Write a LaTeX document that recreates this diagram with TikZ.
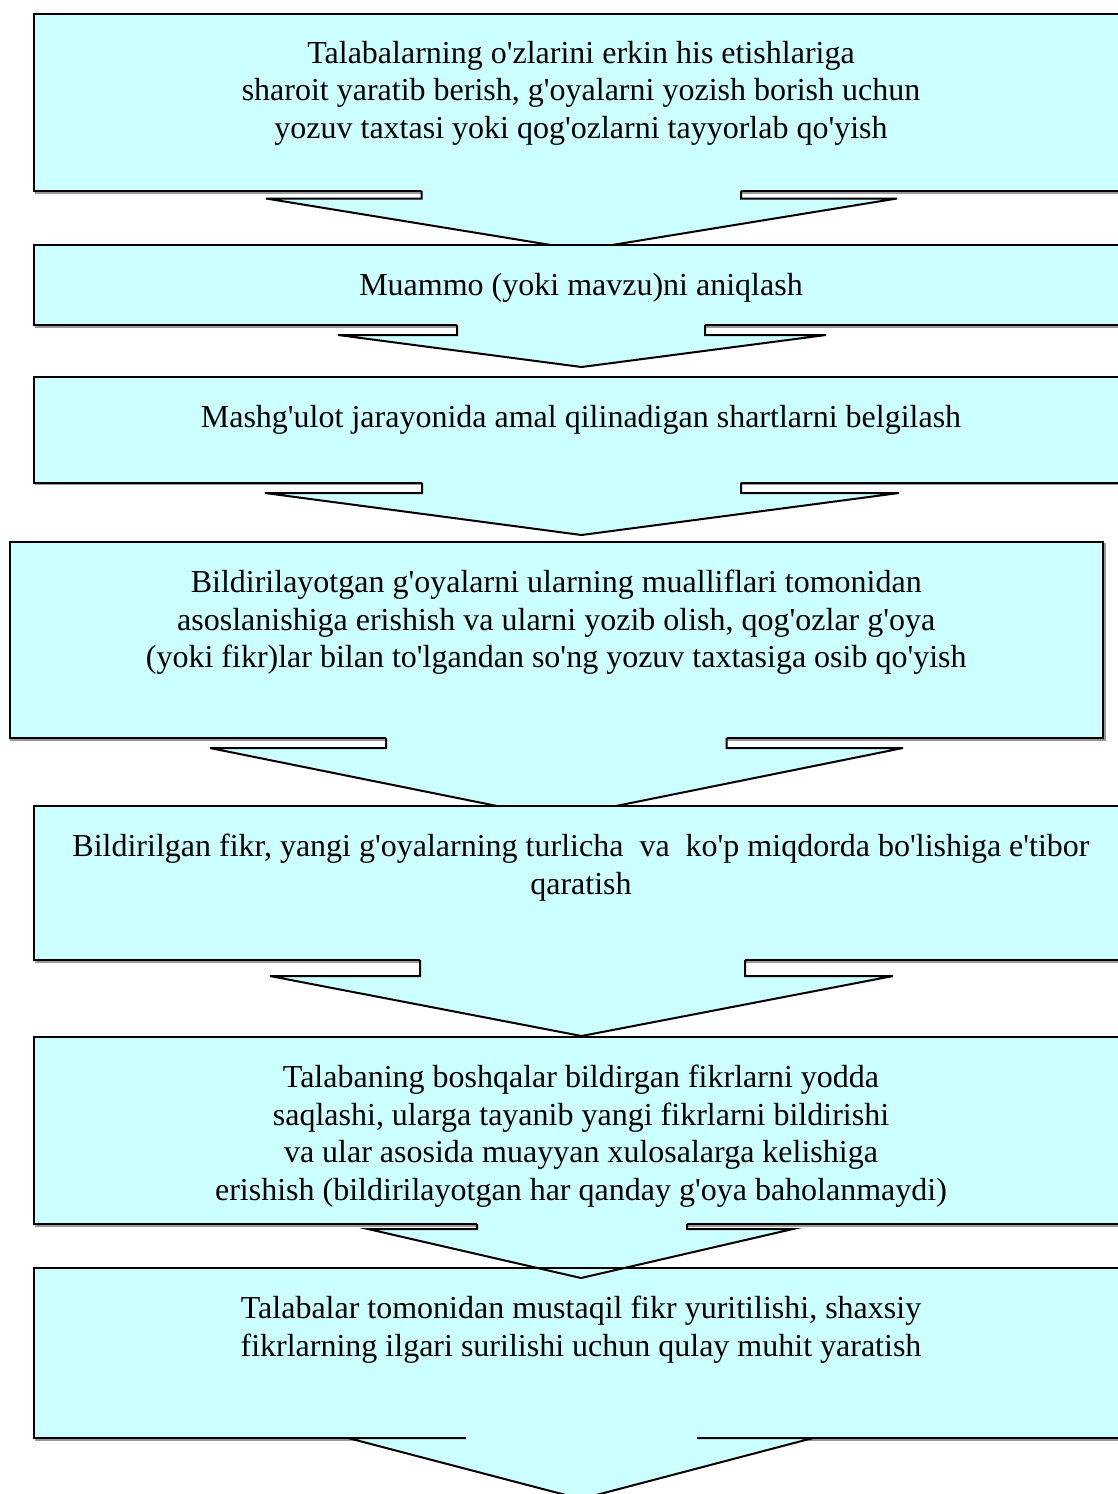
\documentclass[tikz,border=0pt]{standalone}
\usepackage{fontspec}
\setmainfont{Liberation Serif}[Ligatures=TeXOff]
\definecolor{boxcyan}{RGB}{204,255,255}
\tikzset{
  flowbox/.style={fill=boxcyan, draw=black, line width=2pt},
  boxshadow/.style={draw=black!40, line width=2pt},
  boxtext/.style={anchor=north, inner sep=0pt, align=center, font=\fontsize{32}{37.4}\selectfont},
  arrowline/.style={draw=black, line width=2pt, line join=miter},
}
% #1 box bottom, #2 shaft left, #3 shaft right, #4 shaft bottom, #5 head left, #6 head right, #7 tip x, #8 tip y
\newcommand\arrfill[8]{\fill[boxcyan] (#2,#1-3) -- (#2,#4) -- (#5,#4) -- (#7,#8) -- (#6,#4) -- (#3,#4) -- (#3,#1-3) -- cycle;}
\newcommand\arrline[8]{\draw[arrowline] (#2,#1) -- (#2,#4) -- (#5,#4) -- (#7,#8) -- (#6,#4) -- (#3,#4) -- (#3,#1);}
\newcommand\flowbox[5]{% name, x1, y1, x2, y2
  \draw[boxshadow] (#2+1.5,#3+1.5) rectangle (#4+1.5,#5+1.5);
  \draw[flowbox] (#2,#3) rectangle (#4,#5);
  \coordinate (#1) at ({(#2+#4)/2},#3);}
\begin{document}
\begin{tikzpicture}[x=1pt,y=-1pt]
\useasboundingbox (0,0) rectangle (1117,1494);

% Box 1
\flowbox{b1}{34}{14}{1128}{191}
\node[boxtext] (t1) at ([yshift=-23pt]b1) {\strut Talabalarning o'zlarini erkin his etishlariga\\
  sharoit yaratib berish, g'oyalarni yozish borish uchun\\
  yozuv taxtasi yoki qog'ozlarni tayyorlab qo'yish};
\arrfill{191}{421.5}{741}{198.5}{266}{897}{581.5}{250}
\arrline{191}{421.5}{741}{198.5}{266}{897}{581.5}{250}

% Box 2
\flowbox{b2}{34}{245}{1128}{325}
\node[boxtext] (t2) at ([yshift=-24.5pt]b2) {\strut Muammo (yoki mavzu)ni aniqlash};
\arrfill{325}{457}{705}{335}{338}{826}{581.5}{367}
\arrline{325}{457}{705}{335}{338}{826}{581.5}{367}

% Box 3
\flowbox{b3}{34}{377}{1128}{482.5}
\node[boxtext] (t3) at ([yshift=-24.5pt]b3) {\strut Mashg'ulot jarayonida amal qilinadigan shartlarni belgilash};
\arrfill{482.5}{422}{741}{493}{265}{899}{581.5}{535}
\arrline{482.5}{422}{741}{493}{265}{899}{581.5}{535}

% Box 4
\flowbox{b4}{9.5}{542}{1103}{738}
\node[boxtext] (t4) at ([yshift=-24.5pt]b4) {\strut Bildirilayotgan g'oyalarni ularning mualliflari tomonidan\\
  asoslanishiga erishish va ularni yozib olish, qog'ozlar g'oya\\
  (yoki fikr)lar bilan to'lgandan so'ng yozuv taxtasiga osib qo'yish};
\arrfill{738}{386}{726.5}{748}{210}{903}{556.5}{818}
\arrline{738}{386}{726.5}{748}{210}{903}{556.5}{818}

% Box 5
\flowbox{b5}{34}{806}{1128}{960}
\node[boxtext] (t5) at ([yshift=-24.5pt]b5) {\strut Bildirilgan fikr, yangi g'oyalarning turlicha\ \ va\ \ ko'p miqdorda bo'lishiga e'tibor\\
  qaratish};
\arrfill{960}{420}{745}{976}{270}{893}{581.5}{1036}
\arrline{960}{420}{745}{976}{270}{893}{581.5}{1036}

% Box 6
\flowbox{b6}{34}{1037}{1128}{1224}
\node[boxtext] (t6) at ([yshift=-24.5pt]b6) {\strut Talabaning boshqalar bildirgan fikrlarni yodda\\
  saqlashi, ularga tayanib yangi fikrlarni bildirishi\\
  va ular asosida muayyan xulosalarga kelishiga\\
  erishish (bildirilayotgan har qanday g'oya baholanmaydi)};
\arrfill{1224}{477}{687}{1229}{368}{793}{581}{1278}

% Box 7
\flowbox{b7}{34}{1268}{1128}{1438}
\arrline{1224}{477}{687}{1229}{368}{793}{581}{1278}
\node[boxtext] (t7) at ([yshift=-24.5pt]b7) {\strut Talabalar tomonidan mustaqil fikr yuritilishi, shaxsiy\\
  fikrlarning ilgari surilishi uchun qulay muhit yaratish};
\arrfill{1438}{466}{697}{1438}{348}{813}{581}{1499}
\arrline{1438}{466}{697}{1438}{348}{813}{581}{1499}
\end{tikzpicture}
\end{document}
